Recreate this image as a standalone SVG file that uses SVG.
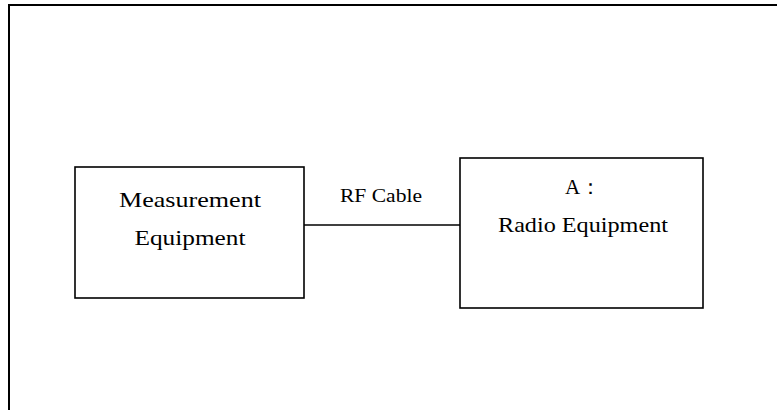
<svg xmlns="http://www.w3.org/2000/svg" width="777" height="410" viewBox="0 0 777 410">
  <style>
    .box { fill: #ffffff; stroke: #000000; stroke-width: 1.6; }
    .frame { fill: none; stroke: #000000; stroke-width: 2; }
    .wire { stroke: #000000; stroke-width: 1.6; fill: none; }
    .lbl { font-family: "Liberation Serif", "DejaVu Serif", serif; font-size: 21px; fill: #000000; text-anchor: middle; }
    .small { font-size: 19px; }
  </style>
  <rect width="777" height="410" fill="#ffffff"/>
  <rect class="frame" x="9" y="5" width="800" height="430"/>
  <g id="connectors">
    <line class="wire" x1="304" y1="225" x2="460" y2="225"/>
    <text class="lbl small" x="381" y="202" textLength="82" lengthAdjust="spacingAndGlyphs">RF Cable</text>
  </g>
  <g id="measurement-equipment">
    <rect class="box" x="75" y="167" width="229" height="131"/>
    <text class="lbl" x="190" y="207" textLength="142" lengthAdjust="spacingAndGlyphs">Measurement</text>
    <text class="lbl" x="190" y="245" textLength="111" lengthAdjust="spacingAndGlyphs">Equipment</text>
  </g>
  <g id="radio-equipment">
    <rect class="box" x="460" y="158" width="243" height="150"/>
    <text class="lbl" x="583" y="194">A：</text>
    <text class="lbl" x="583" y="232" textLength="170" lengthAdjust="spacingAndGlyphs">Radio Equipment</text>
  </g>
</svg>
